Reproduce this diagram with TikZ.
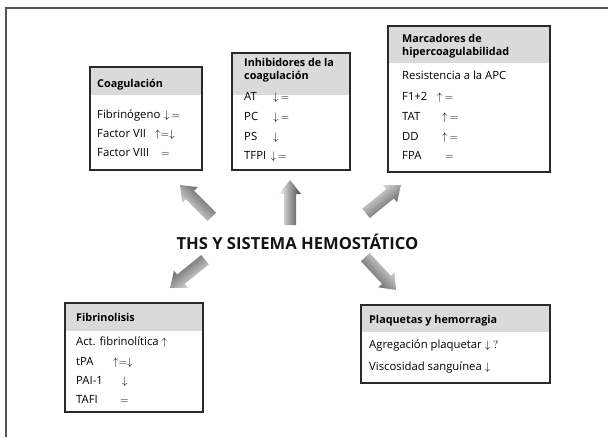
\documentclass[tikz,border=0pt]{standalone}
\usepackage{fontspec}
\setmainfont{Open Sans}
\definecolor{framegray}{HTML}{555555}
\definecolor{headgray}{HTML}{DADADA}
\definecolor{boxline}{HTML}{2A2A2A}
\tikzset{
  boxframe/.style={draw=boxline, line width=1.4pt, inner sep=0pt, outer sep=0pt, anchor=north west},
  headfill/.style={fill=headgray},
  txt/.style={anchor=base west, inner sep=0pt, font=\fontsize{11.3}{13}\selectfont, text=black},
  head/.style={txt, font=\fontsize{10.8}{13}\selectfont\bfseries},
  sym/.style={anchor=base west, inner sep=0pt, font=\fontsize{10.5}{12}\selectfont, text=black},
  title/.style={inner sep=0pt, anchor=base, font=\fontsize{16.6}{20}\selectfont\bfseries, text=black!92}
}
% thick shaded arrow: tail point, direction angle
\newcommand\fatarrow[2]{%
  \begin{scope}[shift={#1}, rotate=#2]
    \shade[left color=black!4, right color=black!72, shading angle=#2]
      (0,-6) -- (31,-6) -- (31,-11) -- (45,0) -- (31,11) -- (31,6) -- (0,6) -- cycle;
  \end{scope}}
\begin{document}
\begin{tikzpicture}[x=1pt, y=-1pt]
\useasboundingbox (0,0) rectangle (608,437);

% outer frame (top and left edges)
\coordinate (fr0) at (6,437);
\coordinate (fr1) at (6,8);
\coordinate (fr2) at (608,8);
\draw[framegray, line width=1.6pt] (fr0) -- (fr1) -- (fr2);

% ---------- Coagulación ----------
\fill[headfill] (90,67) rectangle (202,95);
\node[boxframe, minimum width=112pt, minimum height=103pt] (coag) at (90,67) {};
\node[head] (coagH) at (97,87.3) {Coagulación};
\node[txt] (c1) at (97,118.3) {Fibrinógeno};
\node[sym] (c1s) at (164,118.3) {$\downarrow\,=$};
\node[txt] (c2) at (97,137.5) {Factor VII};
\node[sym] (c2s) at (155,137.5) {$\uparrow=\downarrow$};
\node[txt] (c3) at (97,156.7) {Factor VIII};
\node[sym] (c3s) at (161,156.7) {$=$};

% ---------- Inhibidores de la coagulación ----------
\fill[headfill] (232,53) rectangle (350,95);
\node[boxframe, minimum width=118pt, minimum height=117pt] (inhib) at (232,53) {};
\node[head] (inhH1) at (244,66.7) {Inhibidores de la};
\node[head] (inhH2) at (244,79.3) {coagulación};
\node[txt] (i1) at (244,100.7) {AT};
\node[sym] (i1s) at (273,100.7) {$\downarrow\,=$};
\node[txt] (i2) at (244,120.7) {PC};
\node[sym] (i2s) at (273,120.7) {$\downarrow\,=$};
\node[txt] (i3) at (244,140) {PS};
\node[sym] (i3s) at (273,140) {$\downarrow$};
\node[txt] (i4) at (244,159.3) {TFPI};
\node[sym] (i4s) at (270.5,159.3) {$\downarrow\,=$};

% ---------- Marcadores de hipercoagulabilidad ----------
\fill[headfill] (388,26) rectangle (550,63);
\node[boxframe, minimum width=162pt, minimum height=146pt] (marc) at (388,26) {};
\node[head] (mH1) at (402,42.7) {Marcadores de};
\node[head] (mH2) at (402,55) {hipercoagulabilidad};
\node[txt] (m1) at (402,79.3) {Resistencia a la APC};
\node[txt] (m2) at (402,100) {F1+2};
\node[sym] (m2s) at (437,100) {$\uparrow\,=$};
\node[txt] (m3) at (402,120) {TAT};
\node[sym] (m3s) at (442,120) {$\uparrow\,=$};
\node[txt] (m4) at (402,140) {DD};
\node[sym] (m4s) at (442,140) {$\uparrow\,=$};
\node[txt] (m5) at (402,159.3) {FPA};
\node[sym] (m5s) at (445,159.3) {$=$};

% ---------- Fibrinolisis ----------
\fill[headfill] (65,303) rectangle (203,331);
\node[boxframe, minimum width=138pt, minimum height=109pt] (fibr) at (65,303) {};
\node[head] (fH) at (76,321.7) {Fibrinolisis};
\node[txt] (f1) at (76,345) {Act. fibrinolítica $\uparrow$};
\node[txt] (f2) at (76,365) {tPA};
\node[sym] (f2s) at (113,365) {$\uparrow=\downarrow$};
\node[txt] (f3) at (76,384.3) {PAI-1};
\node[sym] (f3s) at (122,384.3) {$\downarrow$};
\node[txt] (f4) at (76,403.3) {TAFI};
\node[sym] (f4s) at (120,403.3) {$=$};

% ---------- Plaquetas y hemorragia ----------
\fill[headfill] (361,305) rectangle (550,332);
\node[boxframe, minimum width=189pt, minimum height=78pt] (plaq) at (361,305) {};
\node[head] (pH) at (369,323.3) {Plaquetas y hemorragia};
\node[txt] (p1) at (369,348.3) {Agregación plaquetar $\downarrow$ $?$};
\node[txt] (p2) at (369,370) {Viscosidad sanguínea $\downarrow$};

% ---------- central title and shaded arrows ----------
\node[title] (ths) at (297.5,249.3) {THS Y SISTEMA HEMOSTÁTICO};

\fatarrow{(211.8,216.8)}{135}
\fatarrow{(290,225)}{90}
\fatarrow{(366,213.3)}{39}
\fatarrow{(205,259.7)}{219}
\fatarrow{(365.3,257.1)}{313}
\end{tikzpicture}
\end{document}
